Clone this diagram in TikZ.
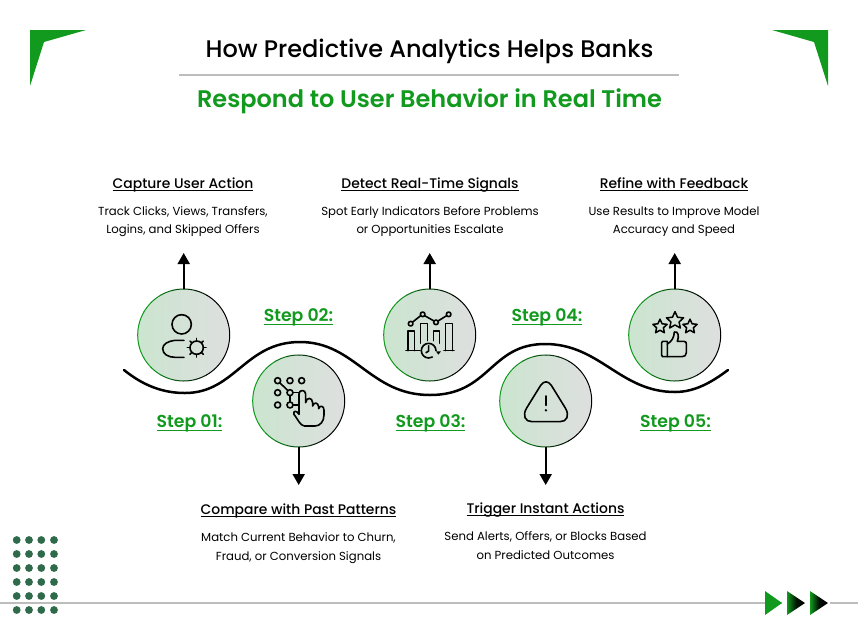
\documentclass[tikz,border=0pt]{standalone}
\usepackage{fontspec}
\setmainfont{Poppins}[UprightFont=*-Medium,BoldFont=*-SemiBold]
\newfontfamily\lightfont{Poppins}
\usetikzlibrary{arrows.meta,calc,shapes.geometric}
\definecolor{brandgreen}{HTML}{119A1E}
\definecolor{dotgreen}{HTML}{2F6B4A}
\definecolor{rulegrey}{HTML}{BDBDBD}
\definecolor{discleft}{HTML}{CBE5CF}
\definecolor{discright}{HTML}{DEDFDF}
\newcommand\ulx[2][3]{\leavevmode\setbox0=\hbox{#2}\rlap{\copy0}\raisebox{-#1pt}{\rule{\wd0}{0.8pt}}}
\tikzset{
  x=1pt,y=-1pt,
  disc/.style={circle,minimum size=92pt,inner sep=0pt,left color=discleft,right color=discright},
  head/.style={anchor=base,font=\fontsize{13.9}{15}\selectfont,text=black,inner sep=0pt},
  desc/.style={anchor=base,font=\fontsize{11.7}{13}\lightfont\selectfont,text=black,inner sep=0pt},
  steplabel/.style={anchor=base,font=\fontsize{17.3}{19}\bfseries\selectfont,text=brandgreen,inner sep=0pt},
  flow/.style={line width=2pt,-{Triangle[width=12pt,length=11pt]}},
  icon/.style={line width=1.6pt,line cap=round,line join=round,draw=black},
  wave/.style={line width=2.5pt,line cap=round},
  starmark/.style={star,star points=5,star point ratio=2.1,draw=black,line width=1.5pt,inner sep=0pt,line join=round}
}
\newcommand\discring[1]{%
  \foreach \a in {0,15,...,345}{%
    \pgfmathsetmacro\p{min(100,max(0,55+75*cos(\a+7.5)))}%
    \draw[line width=1pt,color=black!\p!brandgreen]
      ($(#1.center)+(\a:46)$) arc[start angle=\a,end angle=\a+15.5,radius=46];
  }}
\begin{document}
\begin{tikzpicture}
\useasboundingbox (0,0) rectangle (858,638);
\fill[white] (0,0) rectangle (858,638);

% corners
\fill[brandgreen] (30,30) -- (86,30) -- (44,42) -- (30,86) -- cycle;
\fill[brandgreen] (828,30) -- (772,30) -- (814,42) -- (828,86) -- cycle;

% title
\node[anchor=base,inner sep=0pt,font=\fontsize{24}{27}\selectfont] (title) at (429.5,57) {How Predictive Analytics Helps Banks};
\draw[rulegrey,line width=1.3pt] (179,75) -- (679,75);
\node[anchor=base,inner sep=0pt,font=\fontsize{24}{27}\bfseries\selectfont,text=brandgreen] (subtitle) at (429.5,107) {Respond to User Behavior in Real Time};

% bottom rule and dots
\draw[rulegrey,line width=1.3pt] (0,603) -- (858,603);
\foreach \cx in {16.7,29,41.3,54}{
  \foreach \cy in {540,554,568,582,596,610}{
    \fill[dotgreen] (\cx,\cy) circle[radius=3.9];
  }
}
\fill[white] (782,590) rectangle (830,616);
\fill[brandgreen] (765,591) -- (782,603) -- (765,615) -- cycle;
\shade[left color=brandgreen,right color=black,middle color=black!85!brandgreen] (787,591) -- (805,603) -- (787,615) -- cycle;
\shade[left color=brandgreen,right color=black,middle color=black!92!brandgreen] (810,591) -- (828,603) -- (810,615) -- cycle;

% wave
\draw[wave] (124,370) .. controls (145,387) and (165,393) .. (185,393)
  .. controls (235,393) and (245,342) .. (300,342)
  .. controls (355,342) and (370,395) .. (430,395)
  .. controls (490,395) and (490,344) .. (545,344)
  .. controls (600,344) and (620,392) .. (675,392)
  .. controls (695,392) and (712,382) .. (728,370);

% discs
\node[disc] (c1) at (183.7,335) {};
\node[disc] (c2) at (298.7,401) {};
\node[disc] (c3) at (429.7,335) {};
\node[disc] (c4) at (545.7,401) {};
\node[disc] (c5) at (674.7,335) {};
\discring{c1}\discring{c2}\discring{c3}\discring{c4}\discring{c5}

% connectors
\coordinate (a1) at (183.7,253);
\coordinate (a2) at (298.7,485);
\coordinate (a3) at (429.7,253);
\coordinate (a4) at (545.7,485);
\coordinate (a5) at (674.7,253);
\draw[flow] (c1.north) -- (a1);
\draw[flow] (c2.south) -- (a2);
\draw[flow] (c3.north) -- (a3);
\draw[flow] (c4.south) -- (a4);
\draw[flow] (c5.north) -- (a5);

% icon 1: user + gear
\begin{scope}[shift={(120,280)},x=.3333pt,y=-.3333pt]
  \draw[icon] (185,133) circle[radius=29];
  \draw[icon] (192,181) -- (165,181) .. controls (145,183) and (128,192) .. (128,206)
     .. controls (128,222) and (145,232) .. (165,232) -- (192,232);
  \draw[icon] (230,203) circle[radius=20];
  \foreach \t in {0,45,...,315}{
    \draw[icon] ($(230,203)+(\t:21)$) -- ($(230,203)+(\t:28)$);
  }
\end{scope}

% icon 2: grid + hand
\begin{scope}[shift={(120,280)},x=.3333pt,y=-.3333pt]
  \foreach \gx/\gy in {473/302,510/302,545/302,473/338,510/338,473/375,510/375}{
    \draw[icon] (\gx,\gy) circle[radius=9];
  }
  \draw[icon] (479,308) -- (504,332);
  \draw[icon] (510,347) -- (510,366);
  \draw[icon] (519,338) -- (536,338);
  \draw[icon] (519,375) -- (536,375);
  \draw[icon,fill=none] (537,403) -- (537,342) .. controls (537,328) and (557,328) .. (557,342)
     -- (557,368) .. controls (560,350) and (577,352) .. (578,368) -- (578,378)
     .. controls (582,365) and (594,367) .. (596,380) -- (596,386)
     .. controls (600,374) and (612,378) .. (612,390) -- (612,405)
     .. controls (612,425) and (600,438) .. (585,438) -- (553,438)
     .. controls (540,436) and (535,420) .. (522,403)
     .. controls (518,392) and (530,390) .. (537,403);
\end{scope}

% icon 3: chart + clock
\begin{scope}[shift={(370,280)},x=.3333pt,y=-.3333pt]
  \draw[icon] (122,131) circle[radius=7];
  \draw[icon] (158,103) circle[radius=7];
  \draw[icon] (198,127) circle[radius=7];
  \draw[icon] (236,103) circle[radius=7];
  \draw[icon] (128,126) -- (152,107);
  \draw[icon] (164,107) -- (192,123);
  \draw[icon] (204,123) -- (230,107);
  \draw[icon] (114,212) -- (114,153) -- (134,153) -- (134,212);
  \draw[icon] (152,190) -- (152,130) -- (172,130) -- (172,182);
  \draw[icon] (190,182) -- (190,153) -- (209,153) -- (209,190);
  \draw[icon] (227,212) -- (227,130) -- (248,130) -- (248,212);
  \draw[icon] (108,212) -- (150,212);
  \draw[icon] (222,212) -- (252,212);
  \draw[icon] (198,212) arc[start angle=0,end angle=-300,radius=22];
  \draw[icon] (176,197) -- (176,213) -- (168,218);
  \fill (198,214) -- (213,214) -- (205,224) -- cycle;
\end{scope}

% icon 4: warning
\begin{scope}[shift={(370,280)},x=.3333pt,y=-.3333pt]
  \draw[icon] (512,316) .. controls (522,302) and (534,302) .. (544,316) -- (586,384)
     .. controls (600,408) and (590,425) .. (570,425) -- (486,425)
     .. controls (466,425) and (456,408) .. (470,384) -- cycle;
  \draw[icon] (528,348) -- (528,376);
  \fill (528,391) circle[radius=4];
\end{scope}

% icon 5: stars + thumb
\begin{scope}[shift={(610,280)},x=.3333pt,y=-.3333pt]
  \node[starmark,minimum size=15pt] (s1) at (150,140) {};
  \node[starmark,minimum size=18pt] (s2) at (195,122) {};
  \node[starmark,minimum size=15pt] (s3) at (240,140) {};
  \draw[icon] (172,184) -- (158,184) -- (155,188) -- (155,226) -- (158,230) -- (172,230) -- cycle;
  \draw[icon] (172,192) .. controls (186,184) and (192,172) .. (193,156)
     .. controls (205,152) and (208,170) .. (202,184) -- (222,184)
     .. controls (228,184) and (229,188) .. (229,192) -- (229,218)
     .. controls (229,226) and (224,230) .. (216,230) -- (172,230);
\end{scope}

% step labels
\node[steplabel] (s01) at (189.5,427) {\ulx[4]{Step 01:}};
\node[steplabel] (s02) at (298.5,321) {\ulx[4]{Step 02:}};
\node[steplabel] (s03) at (430.5,427) {\ulx[4]{Step 03:}};
\node[steplabel] (s04) at (547,321) {\ulx[4]{Step 04:}};
\node[steplabel] (s05) at (675.5,427) {\ulx[4]{Step 05:}};

% texts
\node[head] (h1) at (183,188) {\ulx{Capture User Action}};
\node[desc] (d1a) at (183,215) {Track Clicks, Views, Transfers,};
\node[desc] (d1b) at (183,233) {Logins, and Skipped Offers};

\node[head] (h3) at (430,188) {\ulx{Detect Real-Time Signals}};
\node[desc] (d3a) at (430,215) {Spot Early Indicators Before Problems};
\node[desc] (d3b) at (430,233) {or Opportunities Escalate};

\node[head] (h5) at (674,188) {\ulx{Refine with Feedback}};
\node[desc] (d5a) at (674,215) {Use Results to Improve Model};
\node[desc] (d5b) at (674,233) {Accuracy and Speed};

\node[head] (h2) at (298.5,514) {\ulx{Compare with Past Patterns}};
\node[desc] (d2a) at (298.5,541) {Match Current Behavior to Churn,};
\node[desc] (d2b) at (298.5,560) {Fraud, or Conversion Signals};

\node[head] (h4) at (545.5,513) {\ulx{Trigger Instant Actions}};
\node[desc] (d4a) at (545.5,540) {Send Alerts, Offers, or Blocks Based};
\node[desc] (d4b) at (545.5,559) {on Predicted Outcomes};
\end{tikzpicture}
\end{document}
